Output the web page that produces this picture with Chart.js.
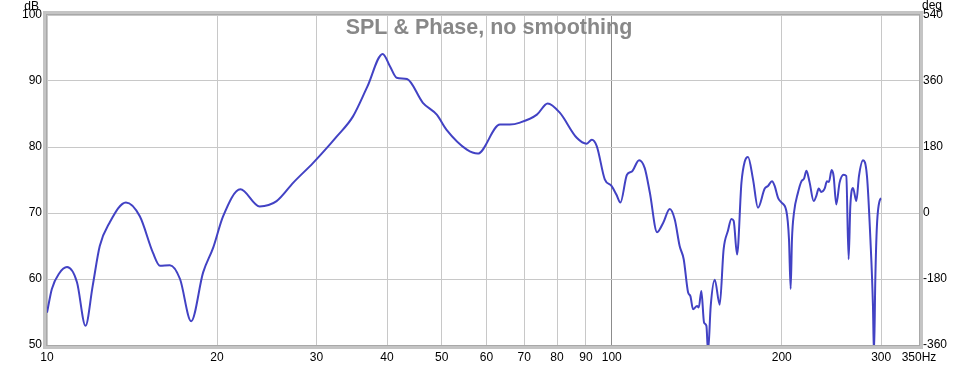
<!DOCTYPE html>
<html>
<head>
<meta charset="utf-8">
<script src="https://cdn.jsdelivr.net/npm/chart.js@4/dist/chart.umd.min.js"></script>
<style>
    body { margin: 0; background: #fff; }
    #wrap { width: 977px; height: 366px; }
</style>
</head>
<body>
<div id="wrap"><canvas id="myChart" width="977" height="366"></canvas></div>
<script>
// frequency (Hz) and SPL (dB)
var freqs = [10.0, 10.2, 10.5, 10.85, 11.3, 11.7, 12.05, 12.4, 12.9, 13.8, 14.6, 15.4, 15.85, 16.5, 17.2, 18.0, 18.9, 19.7,
    20.5, 22.0, 23.8, 25.5, 27.3, 29.6, 31.7, 32.6, 34.8, 36.9, 39.3, 40.5, 41.6, 43.4, 46.3, 49.0, 51.0, 55.4, 57.9,
    63.4, 66.0, 68.8, 73.7, 77.0, 80.9, 86.7, 90.3, 92.2, 94.1, 97.2, 99.9, 101.9, 103.6, 106.4, 108.6, 111.8, 114.4,
    116.8, 120.3, 123.3, 126.7, 129.3, 131.9, 134.1, 136.5, 137.8, 139.3, 141.6, 142.6, 144.1, 145.7, 147.1, 148.1,
    149.7, 152.2, 155.3, 157.8, 160.6, 162.9, 164.4, 166.7, 169.7, 172.0, 174.3, 177.9, 181.5, 186.6, 189.1, 192.2,
    194.3, 197.0, 199.7, 203.8, 206.0, 207.4, 208.5, 210.2, 213.7, 216.7, 219.0, 221.2, 224.1, 227.8, 230.3, 232.5,
    235.0, 238.2, 240.5, 242.4, 245.1, 247.1, 249.8, 253.2, 257.4, 260.2, 262.7, 264.5, 267.4, 271.1, 274.0, 278.6,
    283.1, 287.1, 290.1, 291.3, 292.9, 294.8, 298.9, 300.0];
var spl = [54.9, 58.5, 60.8, 61.8, 59.5, 52.9, 59.0, 65.0, 68.5, 71.6, 69.5, 64.0, 62.0, 62.1, 60.0, 53.6, 61.0, 64.8,
    69.5, 73.6, 71.0, 71.8, 74.6, 77.6, 80.4, 81.6, 84.6, 89.1, 94.1, 92.2, 90.5, 90.3, 86.7, 84.9, 82.6, 79.6, 79.0,
    83.4, 83.4, 83.7, 84.9, 86.6, 85.2, 81.4, 80.5, 81.1, 80.1, 75.1, 74.1, 72.8, 71.6, 75.8, 76.3, 78.0, 76.8,
    73.1, 67.1, 68.5, 70.6, 69.0, 65.0, 63.0, 58.0, 57.4, 55.4, 55.9, 55.7, 58.2, 53.4, 52.9, 49.0,
    55.9, 59.9, 56.1, 64.5, 67.3, 69.1, 68.8, 63.7, 74.6, 77.8, 78.5, 75.1, 70.8, 73.7, 74.1, 74.8,
    74.1, 72.3, 71.6, 70.3, 66.0, 58.5, 66.0, 70.0, 73.1, 74.8, 75.2, 76.4, 74.6, 71.8, 72.6, 73.7,
    73.2, 73.7, 74.8, 74.7, 76.5, 75.6, 71.3, 74.6, 75.8, 75.6, 63.0, 71.0, 73.8, 71.8, 75.6, 78.0,
    75.6, 66.0, 55.9, 48.5, 60.0, 68.0, 72.1, 72.2];

var xTicks = [10, 20, 30, 40, 50, 60, 70, 80, 90, 100, 200, 300, 350];
var xTickLabels = ['10', '20', '30', '40', '50', '60', '70', '80', '90', '100', '200', '300', '350Hz'];
var chartTitle = 'SPL & Phase, no smoothing';

var puntos = [];
for (var i = 0; i < freqs.length; i++) {
    puntos.push({ x: freqs[i], y: spl[i] });
}

// title inside the plot, unit labels and the grey frame
var extras = {
    id: 'extras',
    afterDraw: function (chart) {
        var ctx = chart.ctx;
        var a = chart.chartArea;
        ctx.save();
        ctx.strokeStyle = '#c4c4c4';
        ctx.lineWidth = 4;
        ctx.strokeRect(a.left - 2, a.top - 2, a.right - a.left + 4, a.bottom - a.top + 4);
        ctx.strokeStyle = '#a8a8a8';
        ctx.lineWidth = 1;
        ctx.strokeRect(a.left - 0.5, a.top - 0.5, a.right - a.left + 1, a.bottom - a.top + 1);

        ctx.fillStyle = '#888888';
        ctx.font = 'bold 21.5px "Liberation Sans", Arial, sans-serif';
        ctx.textAlign = 'center';
        ctx.textBaseline = 'alphabetic';
        ctx.fillText(chartTitle, 489, 34);

        ctx.fillStyle = '#000';
        ctx.font = '12px "Liberation Sans", Arial, sans-serif';
        ctx.textAlign = 'right';
        ctx.fillText('dB', 39, 10);
        ctx.textAlign = 'left';
        ctx.fillText('deg', 922, 9);
        ctx.restore();
    }
};

Chart.defaults.font.family = '"Liberation Sans", Arial, sans-serif';
Chart.defaults.font.size = 12;
Chart.defaults.color = '#000';

var ctx = document.getElementById('myChart').getContext('2d');
var myChart = new Chart(ctx, {
    type: 'line',
    data: {
        datasets: [{
            data: puntos,
            borderColor: 'rgb(66, 66, 196)',
            borderWidth: 2,
            pointRadius: 0,
            cubicInterpolationMode: 'monotone',
            fill: false,
            yAxisID: 'y'
        }]
    },
    options: {
        responsive: false,
        animation: false,
        events: [],
        layout: { padding: { top: 15, left: 0, right: 0, bottom: 0 } },
        plugins: { legend: { display: false }, tooltip: { enabled: false }, title: { display: false } },
        scales: {
            x: {
                type: 'logarithmic',
                min: 10,
                max: 350,
                afterBuildTicks: function (scale) {
                    scale.ticks = xTicks.map(function (v) { return { value: v }; });
                },
                afterFit: function (scale) { scale.height = 21; },
                ticks: {
                    autoSkip: false,
                    maxRotation: 0,
                    padding: 5,
                    callback: function (value, index) { return xTickLabels[index]; }
                },
                grid: {
                    drawTicks: false,
                    color: function (c) { return c.tick && c.tick.value === 100 ? '#8c8c8c' : '#c8c8c8'; }
                },
                border: { display: false }
            },
            y: {
                position: 'left',
                min: 50,
                max: 100,
                afterFit: function (scale) { scale.width = 47; },
                ticks: { stepSize: 10, padding: 5 },
                grid: { drawTicks: false, color: '#c8c8c8' },
                border: { display: false }
            },
            y2: {
                position: 'right',
                min: -360,
                max: 540,
                afterFit: function (scale) { scale.width = 58; },
                ticks: { stepSize: 180, padding: 4 },
                grid: { display: false, drawTicks: false },
                border: { display: false }
            }
        }
    },
    plugins: [extras]
});
</script>
</body>
</html>
